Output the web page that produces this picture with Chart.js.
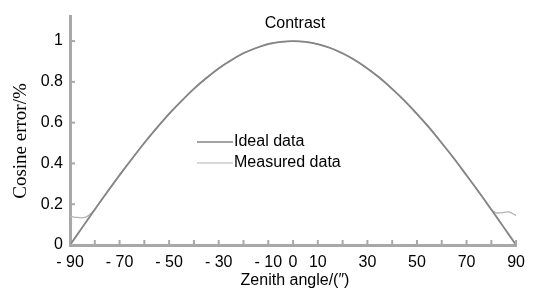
<!DOCTYPE html>
<html>
<head>
<meta charset="utf-8">
<script src="https://cdn.jsdelivr.net/npm/chart.js@4"></script>
<style>
  html, body { margin: 0; padding: 0; background: #fff; }
  #wrap { width: 533px; height: 291px; }
</style>
</head>
<body>
<div id="wrap"><canvas id="chart" width="533" height="291"></canvas></div>
<script>
// Data
const idealAngles = [-90, -85, -80, -75, -70, -65, -60, -55, -50, -45, -40, -35, -30, -25, -20, -15, -10, -5, 0,
                     5, 10, 15, 20, 25, 30, 35, 40, 45, 50, 55, 60, 65, 70, 75, 80, 85, 90];
const idealValues = [0, 0.087, 0.174, 0.259, 0.342, 0.423, 0.5, 0.574, 0.643, 0.707, 0.766, 0.819, 0.866, 0.906, 0.94, 0.966, 0.985, 0.996, 1.0,
                     0.996, 0.985, 0.966, 0.94, 0.906, 0.866, 0.819, 0.766, 0.707, 0.643, 0.574, 0.5, 0.423, 0.342, 0.259, 0.174, 0.087, 0];

const measuredAngles = [-90, -87, -84, -82, -80, -75, -70, -65, -60, -55, -50, -45, -40, -35, -30, -25, -20, -15, -10, -5, 0,
                        5, 10, 15, 20, 25, 30, 35, 40, 45, 50, 55, 60, 65, 70, 75, 80, 82, 84, 87, 90];
const measuredValues = [0.14, 0.135, 0.135, 0.15, 0.175, 0.262, 0.345, 0.421, 0.503, 0.572, 0.645, 0.705, 0.768, 0.817, 0.868, 0.904, 0.942, 0.964, 0.987, 0.995, 1.0,
                        0.997, 0.984, 0.967, 0.938, 0.908, 0.864, 0.821, 0.764, 0.709, 0.641, 0.576, 0.498, 0.425, 0.34, 0.261, 0.172, 0.158, 0.158, 0.162, 0.145];

const xTickValues = [-90, -80, -70, -60, -50, -40, -30, -20, -10, 0, 10, 20, 30, 40, 50, 60, 70, 80, 90];
const xTickLabels = ['- 90', '', '- 70', '', '- 50', '', '- 30', '', '- 10', '0', '10', '', '30', '', '50', '', '70', '', '90'];
const yTickValues = [0, 0.2, 0.4, 0.6, 0.8, 1];
const yTickLabels = ['0', '0.2', '0.4', '0.6', '0.8', '1'];

const seriesNames = ['Ideal data', 'Measured data'];
const chartTitle = 'Contrast';
const xTitle = 'Zenith angle/(\u2033)';
const yTitle = 'Cosine error/%';

const AXIS_COLOR = '#a8a8a8';

// Titles, legend and inside tick marks
const decorations = {
    id: 'decorations',
    afterDraw(chart) {
        const ctx = chart.ctx;
        const area = chart.chartArea;
        const xs = chart.scales.x;
        const ys = chart.scales.y;
        ctx.save();

        // inside ticks
        ctx.strokeStyle = AXIS_COLOR;
        ctx.lineWidth = 2;
        xTickValues.forEach(v => {
            const px = xs.getPixelForValue(v);
            ctx.beginPath();
            ctx.moveTo(px, area.bottom);
            ctx.lineTo(px, area.bottom - 5);
            ctx.stroke();
        });
        yTickValues.forEach(v => {
            const py = ys.getPixelForValue(v);
            ctx.beginPath();
            ctx.moveTo(area.left, py);
            ctx.lineTo(area.left + 5, py);
            ctx.stroke();
        });

        ctx.fillStyle = '#000';
        ctx.textBaseline = 'middle';

        // title
        ctx.font = '16px "Liberation Sans", Arial, sans-serif';
        ctx.textAlign = 'center';
        ctx.fillText(chartTitle, 295, 24);

        // x title
        ctx.fillText(xTitle, 295, 281);

        // y title
        ctx.save();
        ctx.translate(21, 141);
        ctx.rotate(-Math.PI / 2);
        ctx.font = '19px "Liberation Serif", "Times New Roman", serif';
        ctx.fillText(yTitle, 0, 0);
        ctx.restore();

        // legend
        const legendY = [142, 163];
        chart.data.datasets.forEach((ds, i) => {
            ctx.strokeStyle = ds.borderColor;
            ctx.lineWidth = i === 0 ? 1.6 : 1.2;
            ctx.beginPath();
            ctx.moveTo(197, legendY[i]);
            ctx.lineTo(233, legendY[i]);
            ctx.stroke();
            ctx.fillStyle = '#000';
            ctx.textAlign = 'left';
            ctx.font = '16px "Liberation Sans", Arial, sans-serif';
            ctx.fillText(seriesNames[i], 234, legendY[i]);
        });

        ctx.restore();
    }
};

new Chart(document.getElementById('chart').getContext('2d'), {
    type: 'line',
    data: {
        datasets: [{
            label: seriesNames[0],
            data: idealAngles.map((a, i) => ({ x: a, y: idealValues[i] })),
            borderColor: '#858585',
            borderWidth: 1.8,
            pointRadius: 0,
            tension: 0.4,
            fill: false
        }, {
            label: seriesNames[1],
            data: measuredAngles.map((a, i) => ({ x: a, y: measuredValues[i] })),
            borderColor: '#b4b4b4',
            borderWidth: 1.3,
            pointRadius: 0,
            tension: 0.4,
            fill: false
        }]
    },
    options: {
        responsive: false,
        animation: false,
        layout: { padding: { top: 15, right: 13, left: 0, bottom: 0 } },
        plugins: {
            legend: { display: false },
            tooltip: { enabled: false }
        },
        scales: {
            x: {
                type: 'linear',
                min: -90,
                max: 90,
                afterBuildTicks: scale => { scale.ticks = xTickValues.map(v => ({ value: v })); },
                afterFit: scale => { scale.height = 46; },
                grid: { display: false, drawTicks: false },
                border: { display: true, color: AXIS_COLOR, width: 3 },
                ticks: {
                    autoSkip: false,
                    maxRotation: 0,
                    padding: 8,
                    color: '#000',
                    font: { family: '"Liberation Sans", Arial, sans-serif', size: 16 },
                    callback: (v) => {
                        const i = xTickValues.indexOf(v);
                        return i >= 0 ? xTickLabels[i] : '';
                    }
                }
            },
            y: {
                min: 0,
                max: 1.12,
                afterBuildTicks: scale => { scale.ticks = yTickValues.map(v => ({ value: v })); },
                afterFit: scale => { scale.width = 70; },
                grid: { display: false, drawTicks: false },
                border: { display: true, color: AXIS_COLOR, width: 3 },
                ticks: {
                    padding: 7,
                    color: '#000',
                    font: { family: '"Liberation Sans", Arial, sans-serif', size: 16 },
                    callback: (v) => {
                        const i = yTickValues.findIndex(t => Math.abs(t - v) < 1e-9);
                        return i >= 0 ? yTickLabels[i] : '';
                    }
                }
            }
        }
    },
    plugins: [decorations]
});
</script>
</body>
</html>
